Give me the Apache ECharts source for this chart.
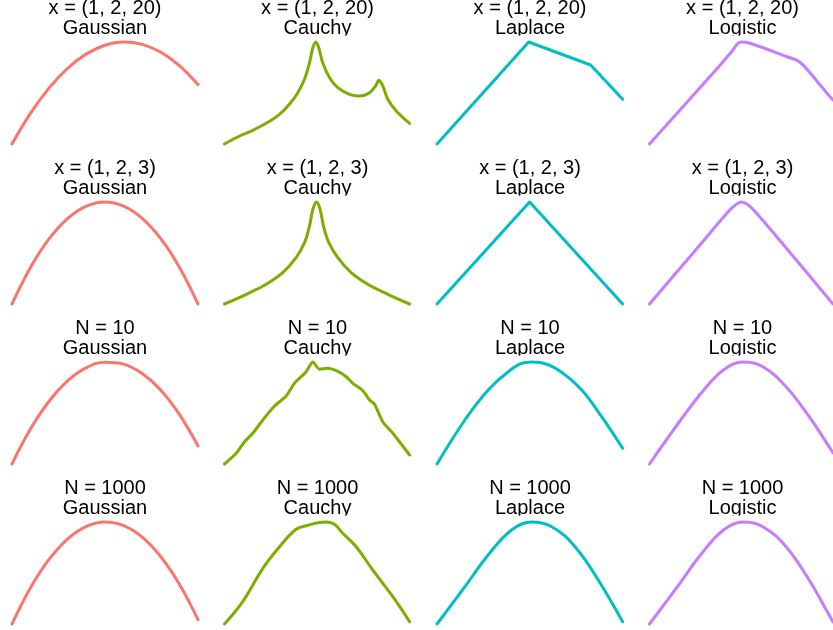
<!DOCTYPE html>
<html>
<head>
<meta charset="utf-8">
<title>Likelihood curves</title>
<script src="https://cdn.jsdelivr.net/npm/echarts@6/dist/echarts.min.js"></script>
<style>
    html, body { margin: 0; padding: 0; background: #fff; }
    #chartOne { width: 833px; height: 630px; }
</style>
</head>
<body>
<div id="chartOne"></div>
<script>
// row / column labels
var rowLabels = ['x = (1, 2, 20)', 'x = (1, 2, 3)', 'N = 10', 'N = 1000'];
var distNames = ['Gaussian', 'Cauchy', 'Laplace', 'Logistic'];
var distColors = ['#F8766D', '#7CAE00', '#00BFC4', '#C77CFF'];

// Gaussian (shared x grid)
var gaussX = [0, 10, 20, 30, 40, 50, 60, 70, 80, 90, 100];
var gauss1 = [0, 30.8, 56.1, 75.9, 90.1, 98.8, 102, 99.6, 91.8, 78.4, 59.4];
var gauss2 = [0, 36.7, 65.3, 85.7, 97.9, 102, 97.9, 85.7, 65.3, 36.7, 0];
var gauss3 = [0, 35.2, 63, 83.3, 96.3, 101.8, 99.9, 90.5, 73.8, 49.6, 18];
var gauss4 = [0, 36.4, 64.8, 85.2, 97.6, 102, 98.4, 86.9, 67.3, 39.8, 4.3];

// Cauchy
var cauchyX1 = [0, 8.1, 15.2, 22.4, 29.6, 34.9, 39.4, 43, 45.7, 47.5, 49.1, 50.7, 52.8, 56.5, 60.9, 67.2, 72.6, 78, 81.2, 83, 85.1, 87.8, 92.3, 99.5];
var cauchyY1 = [0, 8, 13.7, 20.7, 29.7, 39.7, 51.3, 64.7, 81.3, 96.3, 102, 96.3, 81.3, 66.3, 56.3, 49.7, 48, 51.3, 58, 63.7, 58, 44.7, 33, 20.7];
var cauchyX2 = [0, 11.7, 22.4, 31.3, 38.5, 43, 45.7, 47.5, 49.5, 51.4, 53.2, 56.1, 60.9, 68.1, 77, 87.8, 99.5];
var cauchyY2 = [0, 9.7, 19.7, 31.3, 46.3, 61.3, 78, 94.7, 102, 94.7, 78, 61.3, 46.3, 31.3, 19.7, 9.7, 0];
var cauchyX3 = [0, 6.3, 10.8, 15.2, 20.6, 26.9, 33.2, 37.6, 43.9, 47.5, 51.1, 55.5, 60.1, 65.4, 69, 74.4, 78, 80.6, 85.1, 90.5, 99.5];
var cauchyY3 = [0, 10.7, 22.3, 30.7, 44, 58, 68, 80.7, 92.3, 102, 94.7, 95.7, 93.3, 87.3, 80.7, 73.3, 64, 60, 42.3, 30.7, 9];
var cauchyX4 = [0, 9.8, 20.6, 29.6, 38.5, 43.9, 54.7, 59.1, 63.6, 70.8, 79.7, 90.5, 99.5];
var cauchyY4 = [0, 22.3, 55.7, 77.3, 94.7, 98.3, 102, 99.7, 90.7, 77.3, 54, 27.3, 2.3];

// Laplace
var laplaceX1 = [0, 49.3, 82.6, 99.8];
var laplaceY1 = [0, 102, 79, 44.7];
var laplaceX2 = [0, 49.8, 99.8];
var laplaceY2 = [0, 102, 0];
var laplaceX3 = [0, 15, 27.5, 38.3, 47.3, 51.3, 55.4, 65.2, 77.8, 88.5, 99.8];
var laplaceY3 = [0, 44, 74, 92.3, 101.6, 102, 101.6, 94, 74, 47.3, 15.7];
var laplaceX4 = [0, 15, 27.5, 40.1, 50.9, 61.7, 74.2, 86.7, 99.8];
var laplaceY4 = [0, 37.3, 69, 94, 102, 97.3, 77.3, 44, 2.3];

// Logistic
var logisX1 = [0, 37.6, 44.6, 50, 54.8, 75.3, 81.6, 87.1, 92.5, 98.4, 100];
var logisY1 = [0, 77, 92, 102, 100.7, 87, 82.3, 72, 60, 47.3, 44];
var logisX2 = [0, 26.9, 43, 46.8, 50.2, 53.8, 57.5, 73.7, 100];
var logisY2 = [0, 57.8, 92.5, 99, 102, 99, 92.5, 57.8, 0];
var logisX3 = [0, 17, 29.6, 40.3, 51.1, 61.8, 74.4, 87, 98.4, 100];
var logisY3 = [0, 44, 74, 94, 102, 97.3, 77.3, 47.3, 15.7, 11];
var logisX4 = [0, 15.2, 27.8, 40.3, 51.1, 61.8, 74.4, 87, 98.4, 100];
var logisY4 = [0, 37.3, 69, 94, 102, 97.3, 77.3, 44, 7.3, 2];

var curves = [
    [[gaussX, gauss1], [cauchyX1, cauchyY1], [laplaceX1, laplaceY1], [logisX1, logisY1]],
    [[gaussX, gauss2], [cauchyX2, cauchyY2], [laplaceX2, laplaceY2], [logisX2, logisY2]],
    [[gaussX, gauss3], [cauchyX3, cauchyY3], [laplaceX3, laplaceY3], [logisX3, logisY3]],
    [[gaussX, gauss4], [cauchyX4, cauchyY4], [laplaceX4, laplaceY4], [logisX4, logisY4]]
];

function pairs(xs, ys) {
    var out = [];
    for (var i = 0; i < xs.length; i++) out.push([xs[i], ys[i]]);
    return out;
}

function smoothFor(r, c) {
    if (c === 2 && r < 2) return false;   // laplace with few points is piecewise linear
    if (c === 1 && r < 2) return 0.35;
    if (c === 1 && r === 2) return 0.25;
    return 0.4;
}

var colPitch = 212.5, rowPitch = 160;
var grids = [], xAxes = [], yAxes = [], series = [], titles = [], graphics = [];

for (var r = 0; r < 4; r++) {
    for (var c = 0; c < 4; c++) {
        var idx = r * 4 + c;
        grids.push({ left: 12 + c * colPitch, top: 42 + r * rowPitch, width: 186, height: 102 });
        xAxes.push({ type: 'value', gridIndex: idx, min: 0, max: 100, show: false });
        yAxes.push({ type: 'value', gridIndex: idx, min: 0, max: 102, show: false });
        series.push({
            type: 'line',
            xAxisIndex: idx,
            yAxisIndex: idx,
            data: pairs(curves[r][c][0], curves[r][c][1]),
            smooth: smoothFor(r, c),
            showSymbol: false,
            clip: false,
            lineStyle: { color: distColors[c], width: 3, cap: 'round', join: 'round' },
            silent: true
        });
        titles.push({
            text: rowLabels[r] + '\n' + distNames[c],
            left: 105 + c * colPitch,
            top: r * rowPitch - 1.5,
            textAlign: 'center',
            padding: 0,
            textStyle: {
                fontFamily: 'Liberation Sans',
                fontSize: 20,
                fontWeight: 'normal',
                lineHeight: 20,
                color: '#000'
            }
        });
    }
    // strip area ends just above the panel, descenders get cut there
    graphics.push({
        type: 'rect',
        z: 50,
        shape: { x: 0, y: 35.5 + r * rowPitch, width: 833, height: 4.5 },
        style: { fill: '#fff' }
    });
}

var option = {
    animation: false,
    backgroundColor: '#fff',
    title: titles,
    grid: grids,
    xAxis: xAxes,
    yAxis: yAxes,
    series: series,
    graphic: graphics
};

var chartOne = echarts.init(document.getElementById('chartOne'));
chartOne.setOption(option, true);
</script>
</body>
</html>
